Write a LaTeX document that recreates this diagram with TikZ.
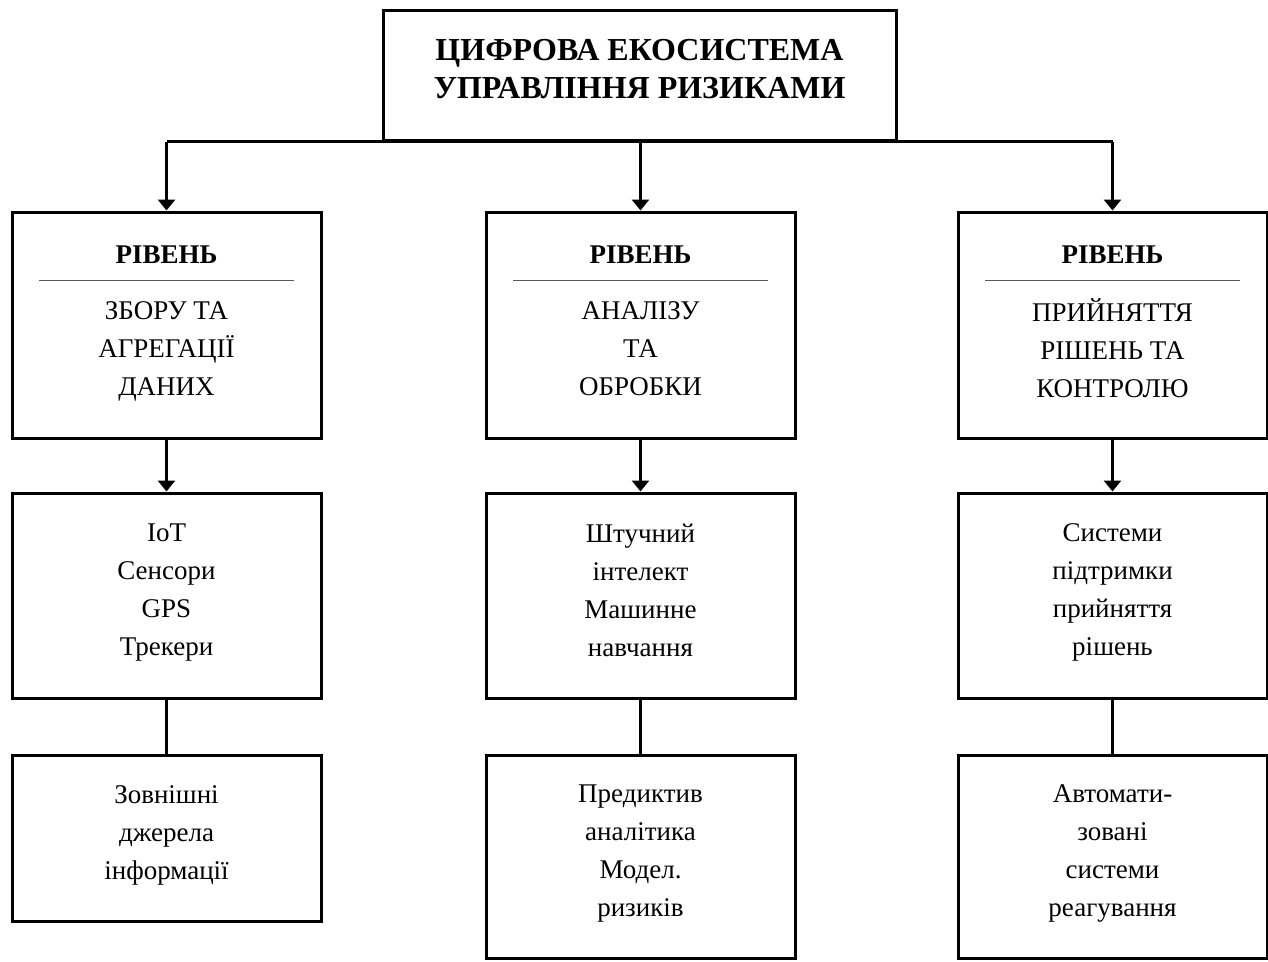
\documentclass[tikz,border=0pt]{standalone}
\usepackage{fontspec}
\setmainfont{Liberation Serif}
\usetikzlibrary{positioning,arrows.meta}

\begin{document}
\begin{tikzpicture}[x=1pt,y=-1pt]
\tikzset{txt/.style={align=center,font=\fontsize{27}{38}\selectfont,
    execute at begin node={\rule{0pt}{33pt}},execute at end node=\strut},
  box/.style={txt,draw,line width=3pt,minimum width=309pt,inner sep=0pt},
  link/.style={line width=3pt},
  arr/.style={link,-{Triangle[width=17pt,length=11pt]}},
  sep/.style={line width=1pt,gray!70!black}}
\useasboundingbox (0,0) rectangle (1268,961);
% top block
\node[box,minimum width=513pt,minimum height=130pt,font=\fontsize{32}{38}\selectfont\bfseries] (eco) at (639.5,75)
  {ЦИФРОВА ЕКОСИСТЕМА\\УПРАВЛІННЯ РИЗИКАМИ};
% three columns
\foreach \i/\x/\lvl/\tech/\src/\y/\h in {
  1/166.5/{ЗБОРУ ТА\\АГРЕГАЦІЇ\\ДАНИХ}/{IoT\\Сенсори\\GPS\\Трекери}/{Зовнішні\\джерела\\інформації}/838/166,
  2/640.5/{АНАЛІЗУ\\ТА\\ОБРОБКИ}/{Штучний\\інтелект\\Машинне\\навчання}/{Предиктив\\аналітика\\Модел.\\ризиків}/856.5/203,
  3/1112.5/{ПРИЙНЯТТЯ\\РІШЕНЬ ТА\\КОНТРОЛЮ}/{Системи\\підтримки\\прийняття\\рішень}/{Автомати-\\зовані\\системи\\реагування}/856.5/203}
{
  \node[box,minimum height=226pt] (lvl\i) at (\x,325) {};
  \node[txt,font=\fontsize{27}{38}\selectfont\bfseries] (head\i) at (\x,252.5) {РІВЕНЬ};
  \draw[sep] (\x-127.5,280) -- (\x+127.5,280);
  \node[txt] (name\i) at (\x,354) {\lvl};
  \node[box,minimum height=205pt] (tech\i) at (\x,595.5) {\tech};
  \node[box,minimum height=\h pt] (src\i) at (\x,\y) {\src};
  % connectors
  \draw[arr] (eco.south -| lvl\i.north) -- (lvl\i.north);
  \draw[arr] (lvl\i.south) -- (tech\i.north);
  \draw[link] (tech\i.south) -- (src\i.north);
}
\draw[link] (eco.south -| lvl1.north) -- (eco.south -| lvl3.north);
\end{tikzpicture}
\end{document}
